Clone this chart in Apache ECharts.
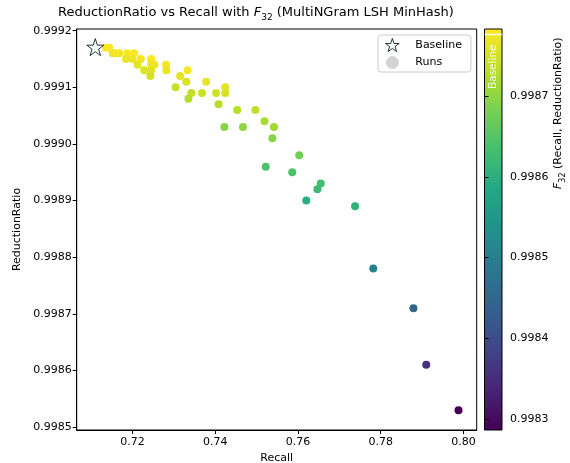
<!DOCTYPE html>
<html><head><meta charset="utf-8">
<script src="https://cdn.jsdelivr.net/npm/echarts@6/dist/echarts.min.js"></script>
<style>html,body{margin:0;padding:0;background:#fff}#c{width:570px;height:463px}</style>
</head><body><div id="c"></div>
<script>
// ---- data ----
const baselineRecall = 0.7110;
const baselineRR = 0.999171;
const recall = [0.7136,0.7144,0.7152,0.7160,0.7168,0.7188,0.7204,0.7184,0.7200,0.7220,0.7245,0.7212,0.7245,0.7253,0.7228,0.7245,0.7243,0.7281,0.7282,0.7333,0.7315,0.7330,0.7378,0.7424,0.7304,0.7342,0.7335,0.7368,0.7402,0.7424,0.7408,0.7453,0.7497,0.7422,0.7467,0.7519,0.7542,0.7538,0.7603,0.7522,0.7586,0.7655,0.7647,0.7620,0.7738,0.7782,0.7879,0.7910,0.7988];
const reductionRatio = [0.99917,0.99917,0.99916,0.99916,0.99916,0.99916,0.99916,0.99915,0.99915,0.99915,0.99915,0.99914,0.99914,0.99914,0.99913,0.99913,0.99912,0.99914,0.99913,0.99913,0.99912,0.99911,0.99911,0.99910,0.99910,0.99909,0.99908,0.99909,0.99909,0.99909,0.99907,0.99906,0.99906,0.99903,0.99903,0.99904,0.99903,0.99901,0.99898,0.99896,0.99895,0.99893,0.99892,0.99890,0.99889,0.99878,0.99871,0.99861,0.99853];
const xTicks = [0.72,0.74,0.76,0.78,0.80];
const yTicks = [0.9985,0.9986,0.9987,0.9988,0.9989,0.9990,0.9991,0.9992];
const cbTicks = [0.9983,0.9984,0.9985,0.9986,0.9987];
const viridis = ['#440154','#482475','#414487','#355f8d','#2a788e','#21918c','#22a884','#44bf70','#7ad151','#bddf26','#fde725'];

// F_beta with beta = 32 (weighting ReductionRatio)
const beta2 = 32*32;
function f32(r, rr){ return (1+beta2)/(beta2/rr + 1/r); }
const runs = recall.map((r,i)=>[r, reductionRatio[i], f32(r, reductionRatio[i])]);
const fVals = runs.map(d=>d[2]);
const fMin = Math.min(...fVals), fMax = Math.max(...fVals);
const baselineF = f32(baselineRecall, baselineRR);

const star = 'path://M50,0 L61.8,35.1 L97.6,34.5 L68.8,56.2 L79.4,90.5 L50,69.8 L20.6,90.5 L31.2,56.2 L2.4,34.5 L38.2,35.1 Z';
const FONT = 'DejaVu Sans';

const chart = echarts.init(document.getElementById('c'), null, {renderer:'canvas'});
const gradStops = viridis.map((c,i)=>({offset: 1 - i/(viridis.length-1), color: c}));
chart.setOption({
  animation:false,
  textStyle:{fontFamily:FONT, color:'#000'},
  title:{
    text:'{a|ReductionRatio vs Recall with }{i|F}{s|32}{a| (MultiNGram LSH MinHash)}',
    left:58, top:6, padding:0,
    textStyle:{fontWeight:'normal', fontFamily:FONT, fontSize:13, color:'#000',
      rich:{
        a:{fontSize:13, fontFamily:FONT, color:'#000', lineHeight:16, verticalAlign:'top'},
        i:{fontSize:13, fontFamily:FONT, color:'#000', fontStyle:'italic', lineHeight:16, verticalAlign:'top'},
        s:{fontSize:9, fontFamily:FONT, color:'#000', lineHeight:10, padding:[7,0,0,0], verticalAlign:'top'}
      }}
  },
  legend:{
    left:378, top:35, orient:'vertical', padding:[3,9,3,7], itemGap:4,
    itemWidth:16, itemHeight:13,
    backgroundColor:'rgba(255,255,255,0.8)', borderColor:'#cccccc', borderWidth:1, borderRadius:3,
    textStyle:{fontFamily:FONT, fontSize:11, color:'#000', padding:[0,0,0,10]},
    data:[
      {name:'Baseline', icon:star, itemStyle:{color:'#f0ffff', borderColor:'#000', borderWidth:1}},
      {name:'Runs', icon:'circle', itemStyle:{color:'#d3d3d3', borderWidth:0}}
    ]
  },
  visualMap:{show:false, type:'continuous', seriesIndex:1, dimension:2, min:fMin, max:fMax, inRange:{color:viridis}},
  grid:[
    {left:76.7, top:29, width:400, height:401, show:true, borderColor:'#000', borderWidth:1, containLabel:false, outerBoundsMode:'none'},
    {left:484.5, top:29, width:17.5, height:401, show:true, borderColor:'#000', borderWidth:1, containLabel:false, outerBoundsMode:'none',
     backgroundColor:{type:'linear', x:0, y:0, x2:0, y2:1, colorStops:gradStops}}
  ],
  xAxis:[
    {gridIndex:0, type:'value', min:0.7065, max:0.8032, splitLine:{show:false},
     axisLine:{show:true, onZero:false, lineStyle:{color:'#000'}},
     axisTick:{show:true, length:4, customValues:xTicks, lineStyle:{color:'#000'}},
     axisLabel:{customValues:xTicks, formatter:v=>v.toFixed(2), fontSize:11, color:'#000', fontFamily:FONT, margin:7},
     name:'Recall', nameLocation:'middle', nameGap:22, nameTextStyle:{fontSize:11, color:'#000', fontFamily:FONT}},
    {gridIndex:1, type:'value', min:0, max:1, show:false}
  ],
  yAxis:[
    {gridIndex:0, type:'value', min:0.998495, max:0.999203, splitLine:{show:false},
     axisLine:{show:true, onZero:false, lineStyle:{color:'#000'}},
     axisTick:{show:true, length:4, customValues:yTicks, lineStyle:{color:'#000'}},
     axisLabel:{customValues:yTicks, formatter:v=>v.toFixed(4), fontSize:11, color:'#000', fontFamily:FONT, margin:5},
     name:'ReductionRatio', nameLocation:'middle', nameRotate:90, nameGap:53, nameTextStyle:{fontSize:11, color:'#000', fontFamily:FONT}},
    {gridIndex:1, type:'value', position:'right', min:fMin, max:fMax, splitLine:{show:false},
     axisLine:{show:false},
     axisTick:{show:true, length:4, customValues:cbTicks, lineStyle:{color:'#000'}},
     axisLabel:{customValues:cbTicks, formatter:v=>v.toFixed(4), fontSize:11, color:'#000', fontFamily:FONT, margin:8}}
  ],
  series:[
    {name:'Baseline', type:'scatter', xAxisIndex:0, yAxisIndex:0, z:5, symbol:star, symbolSize:17,
     itemStyle:{color:'#f0ffff', borderColor:'#000', borderWidth:1}, data:[[baselineRecall, baselineRR]]},
    {name:'Runs', type:'scatter', xAxisIndex:0, yAxisIndex:0, symbolSize:8, itemStyle:{opacity:1}, data:runs},
    {name:'BaselineMark', type:'line', xAxisIndex:1, yAxisIndex:1, symbol:'none', silent:true,
     lineStyle:{color:'rgba(255,255,255,0.9)', width:1.5}, data:[[0, baselineF],[1, baselineF]]}
  ],
  graphic:[
    {type:'text', x:493, y:89, rotation:Math.PI/2, silent:true,
     style:{text:'Baseline', fill:'rgba(255,255,255,0.85)', font:'10.5px "DejaVu Sans"', textAlign:'left', textVerticalAlign:'middle'}},
    {type:'text', x:560, y:189, rotation:Math.PI/2, silent:true,
     style:{text:'{i|F}{s|32}{a| (Recall, ReductionRatio)}', fill:'#000', textAlign:'left', textVerticalAlign:'middle',
       rich:{
         a:{fontSize:11, fontFamily:FONT, fill:'#000', lineHeight:14, verticalAlign:'top'},
         i:{fontSize:11, fontFamily:FONT, fontStyle:'italic', fill:'#000', lineHeight:14, verticalAlign:'top'},
         s:{fontSize:8, fontFamily:FONT, fill:'#000', lineHeight:9, padding:[6,0,0,0], verticalAlign:'top'}
       }}}
  ]
});
</script></body></html>
